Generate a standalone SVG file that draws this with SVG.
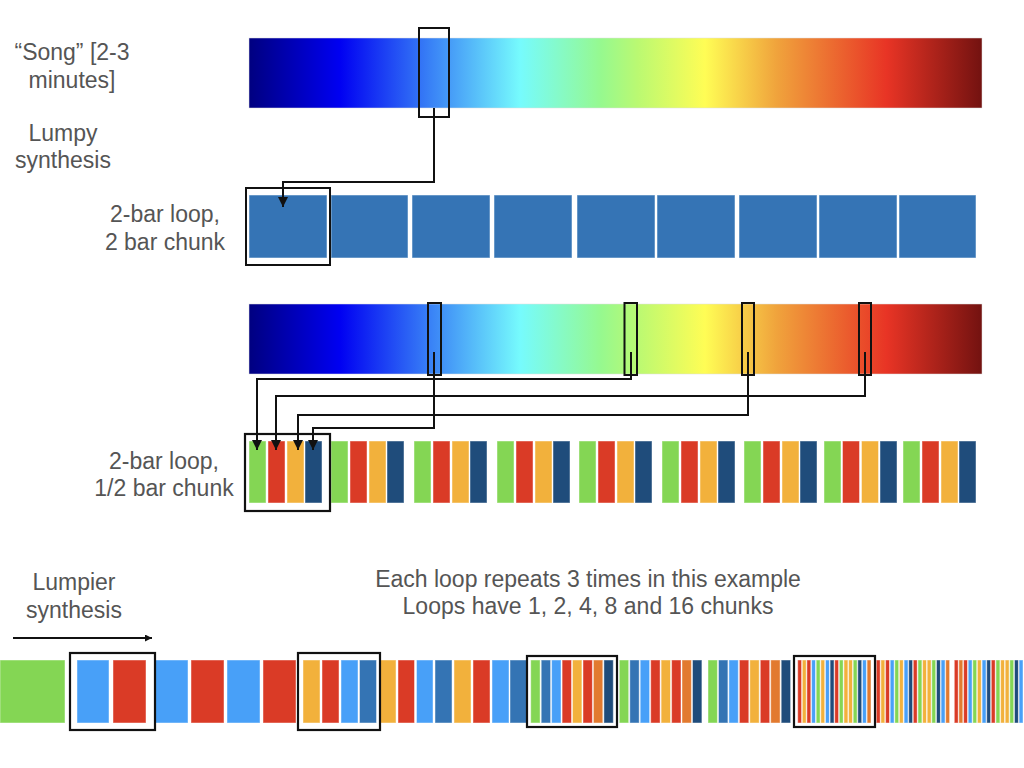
<svg xmlns="http://www.w3.org/2000/svg" width="1024" height="768" viewBox="0 0 1024 768">
<defs>
<linearGradient id="jet" x1="0" y1="0" x2="1" y2="0">
<stop offset="0" stop-color="#000080"/>
<stop offset="0.124" stop-color="#0000f2"/>
<stop offset="0.25" stop-color="#3a84f6"/>
<stop offset="0.37" stop-color="#76fbfd"/>
<stop offset="0.48" stop-color="#96f98f"/>
<stop offset="0.53" stop-color="#baf972"/>
<stop offset="0.622" stop-color="#fffd55"/>
<stop offset="0.72" stop-color="#f0a33c"/>
<stop offset="0.87" stop-color="#e83425"/>
<stop offset="1" stop-color="#731210"/>
</linearGradient>
<marker id="ah" markerUnits="userSpaceOnUse" markerWidth="11" markerHeight="11" refX="10" refY="5" orient="auto">
<path d="M0,0 L10,5 L0,10 z" fill="#111"/>
</marker>
<marker id="ahs" markerUnits="userSpaceOnUse" markerWidth="8" markerHeight="8" refX="7" refY="3.5" orient="auto">
<path d="M0,0 L7,3.5 L0,7 z" fill="#111"/>
</marker>
</defs>
<style>
.lbl{font-family:"Liberation Sans",Arial,Helvetica,sans-serif;font-size:23px;fill:#555;text-anchor:middle}
.sel{fill:none;stroke:#111;stroke-width:2}
.wire{fill:none;stroke:#111;stroke-width:2}
.bar{fill:url(#jet);stroke:#ddd;stroke-width:0.5}
.tile{fill:#3574b5;stroke:#fff;stroke-opacity:0.5;stroke-width:1}
.c rect{stroke:#fff;stroke-opacity:0.45;stroke-width:1}
.c rect.box{fill:none;stroke:#111;stroke-opacity:1;stroke-width:2.2}
.G{fill:#84d654}.LB{fill:#48a0f8}.R{fill:#da3b26}.O{fill:#f2b13c}.MB{fill:#3474b4}.N{fill:#1f4c7b}.DO{fill:#e27a2f}
</style>
<rect width="1024" height="768" fill="#fff"/>

<g id="labels">
<text class="lbl" x="72" y="60">“Song” [2-3</text>
<text class="lbl" x="72" y="88">minutes]</text>
<text class="lbl" x="63" y="141">Lumpy</text>
<text class="lbl" x="63" y="168">synthesis</text>
<text class="lbl" x="165" y="222">2-bar loop,</text>
<text class="lbl" x="165" y="250">2 bar chunk</text>
<text class="lbl" x="164" y="469">2-bar loop,</text>
<text class="lbl" x="164" y="496">1/2 bar chunk</text>
<text class="lbl" x="74" y="590">Lumpier</text>
<text class="lbl" x="74" y="618">synthesis</text>
<text class="lbl" x="588" y="587">Each loop repeats 3 times in this example</text>
<text class="lbl" x="588" y="614">Loops have 1, 2, 4, 8 and 16 chunks</text>
</g>

<g id="song-bar">
<rect class="bar" x="249" y="38" width="733" height="70"/>
<rect class="sel" x="419" y="28" width="30" height="89"/>
</g>

<g id="loop-2bar">
<rect class="tile" x="249" y="195" width="78" height="63"/>
<rect class="tile" x="331" y="195" width="77" height="63"/>
<rect class="tile" x="412" y="195" width="78" height="63"/>
<rect class="tile" x="494" y="195" width="78" height="63"/>
<rect class="tile" x="577" y="195" width="78" height="63"/>
<rect class="tile" x="657" y="195" width="78" height="63"/>
<rect class="tile" x="739" y="195" width="78" height="63"/>
<rect class="tile" x="819" y="195" width="78" height="63"/>
<rect class="tile" x="899" y="195" width="77" height="63"/>
<rect class="sel" x="246" y="188" width="84" height="77"/>
</g>

<g id="song-bar-2">
<rect class="bar" x="249" y="304" width="733" height="70"/>
<rect class="sel" x="428" y="303" width="13" height="72"/>
<rect class="sel" x="624.5" y="303" width="12.5" height="72"/>
<rect class="sel" x="742" y="303" width="12" height="72"/>
<rect class="sel" x="859" y="303" width="12" height="72"/>
</g>

<g id="loop-half-bar" class="c">
<g transform="translate(249,441)"><rect class="G" x="0" width="17" height="62"/><rect class="R" x="19" width="17" height="62"/><rect class="O" x="38" width="17" height="62"/><rect class="N" x="56" width="17" height="62"/></g>
<g transform="translate(331,441)"><rect class="G" x="0" width="17" height="62"/><rect class="R" x="19" width="17" height="62"/><rect class="O" x="38" width="17" height="62"/><rect class="N" x="56" width="17" height="62"/></g>
<g transform="translate(414,441)"><rect class="G" x="0" width="17" height="62"/><rect class="R" x="19" width="17" height="62"/><rect class="O" x="38" width="17" height="62"/><rect class="N" x="56" width="17" height="62"/></g>
<g transform="translate(497,441)"><rect class="G" x="0" width="17" height="62"/><rect class="R" x="19" width="17" height="62"/><rect class="O" x="38" width="17" height="62"/><rect class="N" x="56" width="17" height="62"/></g>
<g transform="translate(579,441)"><rect class="G" x="0" width="17" height="62"/><rect class="R" x="19" width="17" height="62"/><rect class="O" x="38" width="17" height="62"/><rect class="N" x="56" width="17" height="62"/></g>
<g transform="translate(662,441)"><rect class="G" x="0" width="17" height="62"/><rect class="R" x="19" width="17" height="62"/><rect class="O" x="38" width="17" height="62"/><rect class="N" x="56" width="17" height="62"/></g>
<g transform="translate(744,441)"><rect class="G" x="0" width="17" height="62"/><rect class="R" x="19" width="17" height="62"/><rect class="O" x="38" width="17" height="62"/><rect class="N" x="56" width="17" height="62"/></g>
<g transform="translate(824,441)"><rect class="G" x="0" width="17" height="62"/><rect class="R" x="18.5" width="17" height="62"/><rect class="O" x="37.5" width="17" height="62"/><rect class="N" x="56" width="17" height="62"/></g>
<g transform="translate(903,441)"><rect class="G" x="0" width="17" height="62"/><rect class="R" x="19" width="17" height="62"/><rect class="O" x="38" width="17" height="62"/><rect class="N" x="56" width="17" height="62"/></g>
<rect class="box" x="245" y="434" width="85" height="77"/>
</g>

<g id="connectors">
<path class="wire" d="M434,108 V182 H283 V207" marker-end="url(#ah)"/>
<path class="wire" d="M434,352 V428 H313 V450" marker-end="url(#ah)"/>
<path class="wire" d="M631,352 V379 H257 V450" marker-end="url(#ah)"/>
<path class="wire" d="M748,352 V415 H298 V450" marker-end="url(#ah)"/>
<path class="wire" d="M865,352 V396 H276 V450" marker-end="url(#ah)"/>
<path class="wire" d="M13,638 H152" marker-end="url(#ahs)"/>
</g>

<g id="lumpier-strip" class="c">
<g id="loop1"><rect class="G" x="0" y="660" width="65" height="63"/></g>
<g id="loop2">
<rect class="LB" x="77" y="660" width="32" height="63"/><rect class="R" x="113" y="660" width="33" height="63"/>
<rect class="LB" x="155" y="660" width="33" height="63"/><rect class="R" x="191" y="660" width="33" height="63"/>
<rect class="LB" x="227" y="660" width="33" height="63"/><rect class="R" x="263" y="660" width="33" height="63"/>
</g>
<g id="loop4">
<rect class="O" x="303" y="660" width="17" height="63"/><rect class="R" x="322" y="660" width="17" height="63"/><rect class="LB" x="341" y="660" width="17" height="63"/><rect class="MB" x="359.5" y="660" width="17" height="63"/>
<rect class="O" x="380" y="660" width="16" height="63"/><rect class="R" x="398" y="660" width="16.5" height="63"/><rect class="LB" x="416.5" y="660" width="16.5" height="63"/><rect class="MB" x="435" y="660" width="17" height="63"/>
<rect class="O" x="454" y="660" width="17" height="63"/><rect class="R" x="473" y="660" width="17" height="63"/><rect class="LB" x="492" y="660" width="17" height="63"/><rect class="MB" x="510" y="660" width="16.5" height="63"/>
</g>
<g id="loop8">
<rect class="G" x="530.7" y="660" width="9.4" height="63"/><rect class="MB" x="541.2" y="660" width="9.4" height="63"/><rect class="LB" x="551.6" y="660" width="9.4" height="63"/><rect class="R" x="562.1" y="660" width="9.4" height="63"/><rect class="O" x="572.5" y="660" width="9.4" height="63"/><rect class="R" x="583" y="660" width="9.4" height="63"/><rect class="DO" x="593.4" y="660" width="9.4" height="63"/><rect class="N" x="603.9" y="660" width="9.4" height="63"/>
<rect class="G" x="619.3" y="660" width="9.4" height="63"/><rect class="MB" x="629.8" y="660" width="9.4" height="63"/><rect class="LB" x="640.2" y="660" width="9.4" height="63"/><rect class="R" x="650.7" y="660" width="9.4" height="63"/><rect class="O" x="661.1" y="660" width="9.4" height="63"/><rect class="R" x="671.6" y="660" width="9.4" height="63"/><rect class="DO" x="682" y="660" width="9.4" height="63"/><rect class="N" x="692.5" y="660" width="9.4" height="63"/>
<rect class="G" x="708" y="660" width="9.4" height="63"/><rect class="MB" x="718.5" y="660" width="9.4" height="63"/><rect class="LB" x="728.9" y="660" width="9.4" height="63"/><rect class="R" x="739.4" y="660" width="9.4" height="63"/><rect class="O" x="749.8" y="660" width="9.4" height="63"/><rect class="R" x="760.3" y="660" width="9.4" height="63"/><rect class="DO" x="770.7" y="660" width="9.4" height="63"/><rect class="N" x="781.2" y="660" width="9.4" height="63"/>
</g>
<g id="loop16">
<rect class="R" x="797.7" y="660" width="3.9" height="63"/><rect class="O" x="802.3" y="660" width="3.9" height="63"/><rect class="R" x="806.9" y="660" width="3.9" height="63"/><rect class="LB" x="811.6" y="660" width="3.9" height="63"/><rect class="G" x="816.2" y="660" width="3.9" height="63"/><rect class="O" x="820.8" y="660" width="3.9" height="63"/><rect class="LB" x="825.5" y="660" width="3.9" height="63"/><rect class="N" x="830.1" y="660" width="3.9" height="63"/><rect class="R" x="834.7" y="660" width="3.9" height="63"/><rect class="G" x="839.3" y="660" width="3.9" height="63"/><rect class="O" x="844" y="660" width="3.9" height="63"/><rect class="O" x="848.6" y="660" width="3.9" height="63"/><rect class="G" x="853.2" y="660" width="3.9" height="63"/><rect class="N" x="857.8" y="660" width="3.9" height="63"/><rect class="LB" x="862.5" y="660" width="3.9" height="63"/><rect class="DO" x="867.1" y="660" width="3.9" height="63"/>
<rect class="R" x="876.3" y="660" width="3.9" height="63"/><rect class="O" x="880.9" y="660" width="3.9" height="63"/><rect class="R" x="885.6" y="660" width="3.9" height="63"/><rect class="LB" x="890.2" y="660" width="3.9" height="63"/><rect class="G" x="894.8" y="660" width="3.9" height="63"/><rect class="O" x="899.4" y="660" width="3.9" height="63"/><rect class="LB" x="904.1" y="660" width="3.9" height="63"/><rect class="N" x="908.7" y="660" width="3.9" height="63"/><rect class="R" x="913.3" y="660" width="3.9" height="63"/><rect class="G" x="918" y="660" width="3.9" height="63"/><rect class="O" x="922.6" y="660" width="3.9" height="63"/><rect class="O" x="927.2" y="660" width="3.9" height="63"/><rect class="G" x="931.8" y="660" width="3.9" height="63"/><rect class="N" x="936.5" y="660" width="3.9" height="63"/><rect class="LB" x="941.1" y="660" width="3.9" height="63"/><rect class="DO" x="945.7" y="660" width="3.9" height="63"/>
<rect class="R" x="954.3" y="660" width="3.9" height="63"/><rect class="DO" x="958.9" y="660" width="3.9" height="63"/><rect class="R" x="963.6" y="660" width="3.9" height="63"/><rect class="LB" x="968.2" y="660" width="3.9" height="63"/><rect class="G" x="972.8" y="660" width="3.9" height="63"/><rect class="O" x="977.4" y="660" width="3.9" height="63"/><rect class="LB" x="982.1" y="660" width="3.9" height="63"/><rect class="N" x="986.7" y="660" width="3.9" height="63"/><rect class="R" x="991.3" y="660" width="3.9" height="63"/><rect class="G" x="996" y="660" width="3.9" height="63"/><rect class="O" x="1000.6" y="660" width="3.9" height="63"/><rect class="O" x="1005.2" y="660" width="3.9" height="63"/><rect class="G" x="1009.8" y="660" width="3.9" height="63"/><rect class="N" x="1014.5" y="660" width="3.9" height="63"/><rect class="LB" x="1019.1" y="660" width="3.9" height="63"/>
</g>
<g id="strip-boxes">
<rect class="box" x="70" y="653" width="85" height="77"/>
<rect class="box" x="298" y="653" width="82" height="77"/>
<rect class="box" x="527" y="656" width="90" height="71"/>
<rect class="box" x="794" y="656" width="81" height="71"/>
</g>
</g>
</svg>
